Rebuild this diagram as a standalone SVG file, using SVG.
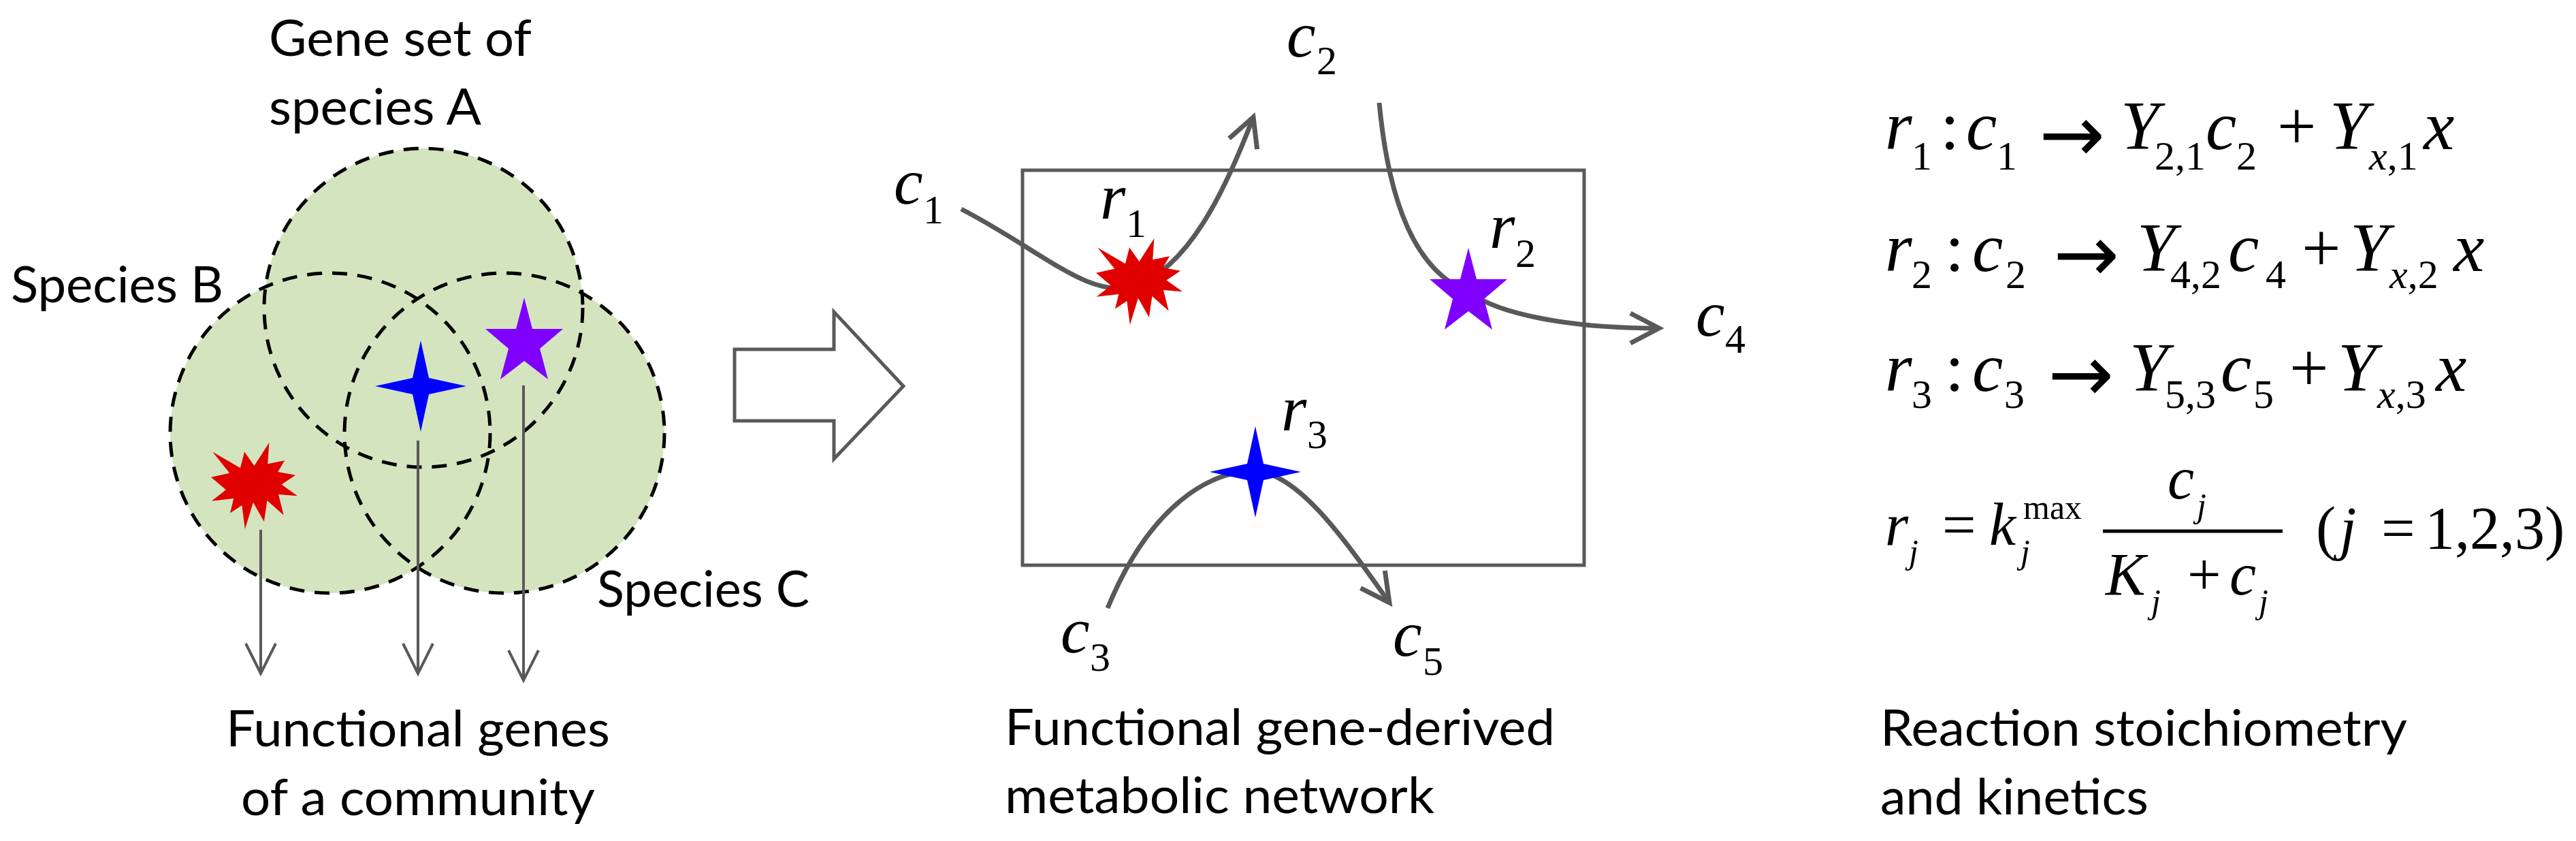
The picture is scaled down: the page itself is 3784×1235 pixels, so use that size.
<svg xmlns="http://www.w3.org/2000/svg" xmlns:xlink="http://www.w3.org/1999/xlink" width="3784" height="1235" viewBox="0 0 3784 1235">
<style>
.sans{font-family:Lato,"Open Sans","Liberation Sans",sans-serif;font-size:74px;fill:#000}
.mi{font-family:"Liberation Serif",serif;font-style:italic;font-size:102px;fill:#000}
.mn{font-family:"Liberation Serif",serif;font-size:102px;fill:#000}
.si{font-family:"Liberation Serif",serif;font-style:italic;font-size:60px;fill:#000}
.sn{font-family:"Liberation Serif",serif;font-size:60px;fill:#000}
.arr{font-family:"DejaVu Sans",sans-serif;font-size:116px;fill:#000}
.li{font-family:"Liberation Serif",serif;font-style:italic;font-size:96px;fill:#000}
.ls{font-family:"Liberation Serif",serif;font-size:60px;fill:#000}
.ki{font-family:"Liberation Serif",serif;font-style:italic;font-size:88px;fill:#000}
.kn{font-family:"Liberation Serif",serif;font-size:88px;fill:#000}
.ksi{font-family:"Liberation Serif",serif;font-style:italic;font-size:50px;fill:#000}
.ksn{font-family:"Liberation Serif",serif;font-size:50px;fill:#000}
.fill{fill:#d4e4bf;stroke:none}
.dash{fill:none;stroke:#000;stroke-width:5;stroke-dasharray:22 15}
.gl{fill:none;stroke:#595959;stroke-width:4}
.gc{fill:none;stroke:#595959;stroke-width:7}
.red{fill:#e00000}
.blue{fill:#0000ff}
.purple{fill:#7f00ff}
</style>
<defs>
<path id="seal" d="M10800,5800 L14522,0 L14155,5325 L18380,4457 L16702,7315 L21097,8137 L17607,10475 L21600,13290 L16837,12942 L18145,18095 L14020,14457 L13247,19737 L10532,14935 L8485,21600 L7715,15627 L4762,17617 L5667,13937 L135,14587 L3722,11775 L0,8615 L4627,7617 L370,2295 L7312,6320 L8352,2295 Z"/>
<polygon id="star4" points="0,-67 12,-12 67,0 12,12 0,67 -12,12 -67,0 -12,-12"/>
<polygon id="star5" points="770,437 782,483 827,483 793,512 805,557 770,530 735,557 747,512 713,483 758,483"/>
<marker id="ah" markerUnits="userSpaceOnUse" viewBox="-60 -40 80 80" markerWidth="80" markerHeight="80" refX="0" refY="0" orient="auto" overflow="visible">
<path d="M-44,-22 L0,0 L-44,22" fill="none" stroke="#595959" stroke-width="4"/>
</marker>
<marker id="ah7" markerUnits="userSpaceOnUse" viewBox="-60 -40 80 80" markerWidth="80" markerHeight="80" refX="0" refY="0" orient="auto" overflow="visible">
<path d="M-42,-22 L0,0 L-42,22" fill="none" stroke="#595959" stroke-width="7"/>
</marker>
</defs>
<rect x="0" y="0" width="3784" height="1235" fill="#fff"/>

<g id="venn">
<circle class="fill" cx="622" cy="452" r="234"/>
<circle class="fill" cx="485" cy="636" r="235"/>
<circle class="fill" cx="741" cy="636" r="235"/>
<circle id="species-A" class="dash" cx="622" cy="452" r="234"/>
<circle id="species-B" class="dash" cx="485" cy="636" r="235"/>
<circle id="species-C" class="dash" cx="741" cy="636" r="235"/>
</g>

<g id="network-box">
<rect x="1502" y="250" width="825" height="580" fill="none" stroke="#595959" stroke-width="5"/>
</g>

<g id="connectors">
<line class="gl" x1="383" y1="778" x2="383" y2="989" marker-end="url(#ah)"/>
<line class="gl" x1="614" y1="647" x2="614" y2="989" marker-end="url(#ah)"/>
<line class="gl" x1="769" y1="566" x2="769" y2="999" marker-end="url(#ah)"/>
<polygon points="1079,513 1225,513 1225,458 1327,567 1225,674 1225,618 1079,618" fill="#fff" stroke="#595959" stroke-width="5"/>
<path class="gc" d="M1412,307 C1530,368 1600,440 1665,420 C1745,395 1800,280 1841,172" marker-end="url(#ah7)"/>
<path class="gc" d="M2026,151 C2040,300 2080,400 2160,430 C2200,460 2300,482 2437,482" marker-end="url(#ah7)"/>
<path class="gc" d="M1627,893 C1690,740 1780,690 1844,692 C1910,694 1985,807 2041,885" marker-end="url(#ah7)"/>
</g>

<g id="gene-red"><use xlink:href="#seal" class="red" transform="translate(310,650) scale(0.00588)"/></g>
<g id="gene-blue"><use xlink:href="#star4" class="blue" transform="translate(618,567)"/></g>
<g id="gene-purple"><use xlink:href="#star5" class="purple"/></g>

<g id="reaction-r1"><use xlink:href="#seal" class="red" transform="translate(1610,350) scale(0.00588)"/></g>
<g id="reaction-r2"><use xlink:href="#star5" class="purple" transform="translate(1387,-73)"/></g>
<g id="reaction-r3"><use xlink:href="#star4" class="blue" transform="translate(1844,693)"/></g>

<g id="labels-left">
<text class="sans" x="395" y="82" textLength="386" lengthAdjust="spacingAndGlyphs">Gene set of</text>
<text class="sans" x="395" y="183" textLength="312" lengthAdjust="spacingAndGlyphs">species A</text>
<text class="sans" x="16" y="444" textLength="312" lengthAdjust="spacingAndGlyphs">Species B</text>
<text class="sans" x="877" y="891" textLength="312" lengthAdjust="spacingAndGlyphs">Species C</text>
<text class="sans" x="332" y="1096" textLength="564" lengthAdjust="spacingAndGlyphs">Functional genes</text>
<text class="sans" x="354" y="1197" textLength="520" lengthAdjust="spacingAndGlyphs">of a community</text>
</g>

<g id="labels-middle">
<text id="c1"><tspan class="li" x="1313" y="299">c</tspan><tspan class="ls" x="1356" y="328">1</tspan></text>
<text id="c2"><tspan class="li" x="1890" y="83">c</tspan><tspan class="ls" x="1934" y="109">2</tspan></text>
<text id="r1"><tspan class="li" x="1616" y="321">r</tspan><tspan class="ls" x="1654" y="348">1</tspan></text>
<text id="r2"><tspan class="li" x="2188" y="364">r</tspan><tspan class="ls" x="2226" y="392">2</tspan></text>
<text id="r3"><tspan class="li" x="1882" y="632">r</tspan><tspan class="ls" x="1920" y="658">3</tspan></text>
<text id="c4"><tspan class="li" x="2491" y="493">c</tspan><tspan class="ls" x="2534" y="518">4</tspan></text>
<text id="c3"><tspan class="li" x="1558" y="958">c</tspan><tspan class="ls" x="1601" y="985">3</tspan></text>
<text id="c5"><tspan class="li" x="2046" y="963">c</tspan><tspan class="ls" x="2090" y="991">5</tspan></text>
<text class="sans" x="1476" y="1094" textLength="808" lengthAdjust="spacingAndGlyphs">Functional gene-derived</text>
<text class="sans" x="1476" y="1194" textLength="631" lengthAdjust="spacingAndGlyphs">metabolic network</text>
</g>

<g id="equations">
<text id="eq1"><tspan class="mi" x="2769" y="219">r</tspan><tspan class="sn" x="2808" y="249">1</tspan><tspan class="mn" x="2850" y="219">:</tspan><tspan class="mi" x="2888" y="219">c</tspan><tspan class="sn" x="2933" y="249">1</tspan><tspan class="mi" x="3115" y="219">Y</tspan><tspan class="sn" x="3165" y="249">2,1</tspan><tspan class="mi" x="3240" y="219">c</tspan><tspan class="sn" x="3285" y="249">2</tspan><tspan class="mn" x="3345" y="219">+</tspan><tspan class="mi" x="3422" y="219">Y</tspan><tspan class="si" x="3480" y="249">x</tspan><tspan class="sn" y="249">,1</tspan><tspan class="mi" x="3560" y="219">x</tspan></text>
<text class="arr" x="2995" y="237" textLength="97" lengthAdjust="spacingAndGlyphs">→</text>
<text id="eq2"><tspan class="mi" x="2769" y="398">r</tspan><tspan class="sn" x="2808" y="423">2</tspan><tspan class="mn" x="2857" y="398">:</tspan><tspan class="mi" x="2897" y="398">c</tspan><tspan class="sn" x="2946" y="423">2</tspan><tspan class="mi" x="3139" y="398">Y</tspan><tspan class="sn" x="3188" y="423">4,2</tspan><tspan class="mi" x="3273" y="398">c</tspan><tspan class="sn" x="3328" y="423">4</tspan><tspan class="mn" x="3381" y="398">+</tspan><tspan class="mi" x="3452" y="398">Y</tspan><tspan class="si" x="3510" y="423">x</tspan><tspan class="sn" y="423">,2</tspan><tspan class="mi" x="3604" y="398">x</tspan></text>
<text class="arr" x="3016" y="413" textLength="97" lengthAdjust="spacingAndGlyphs">→</text>
<text id="eq3"><tspan class="mi" x="2769" y="574">r</tspan><tspan class="sn" x="2808" y="599">3</tspan><tspan class="mn" x="2857" y="574">:</tspan><tspan class="mi" x="2897" y="574">c</tspan><tspan class="sn" x="2944" y="599">3</tspan><tspan class="mi" x="3128" y="574">Y</tspan><tspan class="sn" x="3180" y="599">5,3</tspan><tspan class="mi" x="3262" y="574">c</tspan><tspan class="sn" x="3310" y="599">5</tspan><tspan class="mn" x="3363" y="574">+</tspan><tspan class="mi" x="3434" y="574">Y</tspan><tspan class="si" x="3492" y="599">x</tspan><tspan class="sn" y="599">,3</tspan><tspan class="mi" x="3578" y="574">x</tspan></text>
<text class="arr" x="3008" y="589" textLength="97" lengthAdjust="spacingAndGlyphs">→</text>
<text id="eq4"><tspan class="ki" x="2769" y="800">r</tspan><tspan class="ksi" x="2804" y="827">j</tspan><tspan class="kn" x="2853" y="800">=</tspan><tspan class="ki" x="2922" y="800">k</tspan><tspan class="ksn" x="2972" y="762">max</tspan><tspan class="ksi" x="2968" y="827">j</tspan><tspan class="ki" x="3184" y="732">c</tspan><tspan class="ksi" x="3227" y="759">j</tspan><tspan class="ki" x="3093" y="873">K</tspan><tspan class="ksi" x="3160" y="900">j</tspan><tspan class="kn" x="3213" y="873">+</tspan><tspan class="ki" x="3275" y="873">c</tspan><tspan class="ksi" x="3318" y="900">j</tspan><tspan class="kn" x="3402" y="805">(</tspan><tspan class="ki" x="3437" y="805">j</tspan><tspan class="kn" x="3498" y="805">=</tspan><tspan class="kn" x="3562" y="805">1,2,3)</tspan></text>
<line x1="3089" y1="780" x2="3353" y2="780" stroke="#000" stroke-width="5"/>
<text class="sans" x="2762" y="1095" textLength="774" lengthAdjust="spacingAndGlyphs">Reaction stoichiometry</text>
<text class="sans" x="2762" y="1196" textLength="394" lengthAdjust="spacingAndGlyphs">and kinetics</text>
</g>
</svg>
